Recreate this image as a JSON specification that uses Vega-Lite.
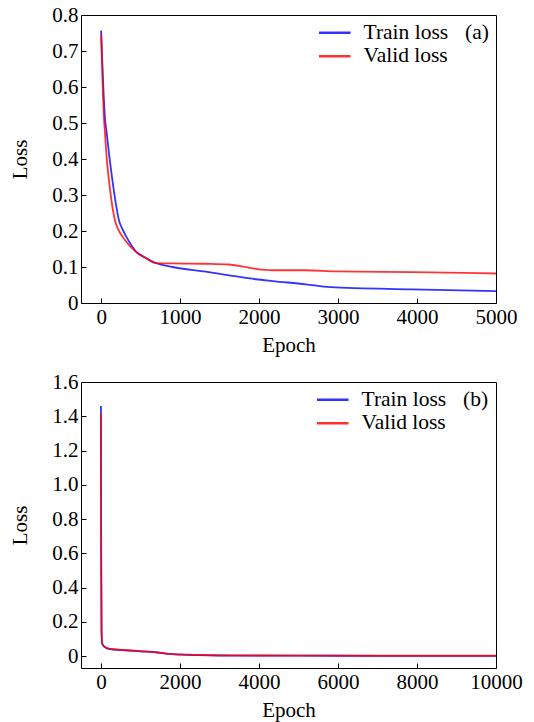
{
  "$schema": "https://vega.github.io/schema/vega-lite/v6.json",
  "padding": {"left": 9, "top": 3, "right": 5, "bottom": 5},
  "background": "white",
  "bounds": "flush",
  "spacing": 79,
  "config": {
    "font": "Liberation Serif",
    "view": {"stroke": "black", "strokeWidth": 1},
    "axis": {
      "labelFont": "Liberation Serif", "labelFontSize": 21, "labelColor": "black",
      "titleFont": "Liberation Serif", "titleFontSize": 21, "titleColor": "black", "titleFontWeight": "normal",
      "domain": false, "grid": false, "ticks": true, "tickSize": -5, "tickColor": "black", "tickWidth": 1,
      "labelPadding": 8, "labelFlush": false, "labelOverlap": false
    },
    "legend": {
      "orient": "top-right", "offset": 7, "padding": 0,
      "titleOrient": "right", "titleAnchor": "start", "titleBaseline": "top",
      "titleFont": "Liberation Serif", "titleFontSize": 21.5, "titleFontWeight": "normal", "titleColor": "black", "titlePadding": 17,
      "labelFont": "Liberation Serif", "labelFontSize": 21.5, "labelColor": "black", "labelOffset": 18,
      "symbolType": "M-3.16,0H3.16", "symbolSize": 100, "symbolStrokeWidth": 2.5, "rowPadding": 0.5
    }
  },
  "datasets": {
    "a": [
      {"epoch": 0, "loss": 0.757, "series": "Train loss"},
      {"epoch": 51, "loss": 0.506, "series": "Train loss"},
      {"epoch": 67, "loss": 0.478, "series": "Train loss"},
      {"epoch": 101, "loss": 0.413, "series": "Train loss"},
      {"epoch": 156, "loss": 0.32, "series": "Train loss"},
      {"epoch": 228, "loss": 0.228, "series": "Train loss"},
      {"epoch": 270, "loss": 0.205, "series": "Train loss"},
      {"epoch": 350, "loss": 0.172, "series": "Train loss"},
      {"epoch": 443, "loss": 0.142, "series": "Train loss"},
      {"epoch": 550, "loss": 0.127, "series": "Train loss"},
      {"epoch": 692, "loss": 0.111, "series": "Train loss"},
      {"epoch": 903, "loss": 0.1, "series": "Train loss"},
      {"epoch": 1325, "loss": 0.087, "series": "Train loss"},
      {"epoch": 1620, "loss": 0.077, "series": "Train loss"},
      {"epoch": 1958, "loss": 0.066, "series": "Train loss"},
      {"epoch": 2169, "loss": 0.061, "series": "Train loss"},
      {"epoch": 2591, "loss": 0.052, "series": "Train loss"},
      {"epoch": 2900, "loss": 0.044, "series": "Train loss"},
      {"epoch": 3941, "loss": 0.038, "series": "Train loss"},
      {"epoch": 5000, "loss": 0.033, "series": "Train loss"},
      {"epoch": 0, "loss": 0.746, "series": "Valid loss"},
      {"epoch": 38, "loss": 0.506, "series": "Valid loss"},
      {"epoch": 47, "loss": 0.478, "series": "Valid loss"},
      {"epoch": 67, "loss": 0.413, "series": "Valid loss"},
      {"epoch": 110, "loss": 0.32, "series": "Valid loss"},
      {"epoch": 177, "loss": 0.228, "series": "Valid loss"},
      {"epoch": 215, "loss": 0.205, "series": "Valid loss"},
      {"epoch": 300, "loss": 0.175, "series": "Valid loss"},
      {"epoch": 443, "loss": 0.142, "series": "Valid loss"},
      {"epoch": 550, "loss": 0.127, "series": "Valid loss"},
      {"epoch": 692, "loss": 0.111, "series": "Valid loss"},
      {"epoch": 903, "loss": 0.11, "series": "Valid loss"},
      {"epoch": 1325, "loss": 0.109, "series": "Valid loss"},
      {"epoch": 1620, "loss": 0.107, "series": "Valid loss"},
      {"epoch": 1800, "loss": 0.101, "series": "Valid loss"},
      {"epoch": 1958, "loss": 0.095, "series": "Valid loss"},
      {"epoch": 2169, "loss": 0.091, "series": "Valid loss"},
      {"epoch": 2591, "loss": 0.091, "series": "Valid loss"},
      {"epoch": 2971, "loss": 0.088, "series": "Valid loss"},
      {"epoch": 3941, "loss": 0.086, "series": "Valid loss"},
      {"epoch": 5000, "loss": 0.082, "series": "Valid loss"}
    ],
    "b": [
      {"epoch": 0, "loss": 1.46, "series": "Train loss"},
      {"epoch": 5, "loss": 0.6, "series": "Train loss"},
      {"epoch": 15, "loss": 0.15, "series": "Train loss"},
      {"epoch": 30, "loss": 0.075, "series": "Train loss"},
      {"epoch": 60, "loss": 0.06, "series": "Train loss"},
      {"epoch": 150, "loss": 0.045, "series": "Train loss"},
      {"epoch": 300, "loss": 0.038, "series": "Train loss"},
      {"epoch": 600, "loss": 0.033, "series": "Train loss"},
      {"epoch": 1000, "loss": 0.027, "series": "Train loss"},
      {"epoch": 1400, "loss": 0.021, "series": "Train loss"},
      {"epoch": 1700, "loss": 0.012, "series": "Train loss"},
      {"epoch": 2000, "loss": 0.008, "series": "Train loss"},
      {"epoch": 2500, "loss": 0.005, "series": "Train loss"},
      {"epoch": 3000, "loss": 0.003, "series": "Train loss"},
      {"epoch": 4000, "loss": 0.002, "series": "Train loss"},
      {"epoch": 6000, "loss": 0.0015, "series": "Train loss"},
      {"epoch": 8000, "loss": 0.001, "series": "Train loss"},
      {"epoch": 10000, "loss": 0.001, "series": "Train loss"},
      {"epoch": 0, "loss": 1.415, "series": "Valid loss"},
      {"epoch": 5, "loss": 0.6, "series": "Valid loss"},
      {"epoch": 15, "loss": 0.15, "series": "Valid loss"},
      {"epoch": 30, "loss": 0.075, "series": "Valid loss"},
      {"epoch": 60, "loss": 0.062, "series": "Valid loss"},
      {"epoch": 150, "loss": 0.047, "series": "Valid loss"},
      {"epoch": 300, "loss": 0.04, "series": "Valid loss"},
      {"epoch": 600, "loss": 0.035, "series": "Valid loss"},
      {"epoch": 1000, "loss": 0.029, "series": "Valid loss"},
      {"epoch": 1400, "loss": 0.022, "series": "Valid loss"},
      {"epoch": 1700, "loss": 0.013, "series": "Valid loss"},
      {"epoch": 2000, "loss": 0.009, "series": "Valid loss"},
      {"epoch": 2500, "loss": 0.006, "series": "Valid loss"},
      {"epoch": 3000, "loss": 0.004, "series": "Valid loss"},
      {"epoch": 4000, "loss": 0.003, "series": "Valid loss"},
      {"epoch": 6000, "loss": 0.002, "series": "Valid loss"},
      {"epoch": 8000, "loss": 0.0015, "series": "Valid loss"},
      {"epoch": 10000, "loss": 0.0015, "series": "Valid loss"}
    ]
  },
  "vconcat": [
    {
      "width": 415, "height": 288,
      "data": {"name": "a"},
      "mark": {"type": "line", "strokeWidth": 1.8, "opacity": 0.8, "interpolate": "monotone", "clip": true},
      "encoding": {
        "x": {"field": "epoch", "type": "quantitative", "scale": {"domain": [-255, 5000], "nice": false, "zero": false},
              "axis": {"title": "Epoch", "values": [0, 1000, 2000, 3000, 4000, 5000], "format": "d", "titlePadding": 7}},
        "y": {"field": "loss", "type": "quantitative", "scale": {"domain": [0, 0.8], "nice": false},
              "axis": {"title": "Loss", "values": [0, 0.1, 0.2, 0.3, 0.4, 0.5, 0.6, 0.7, 0.8], "labelExpr": "datum.value == 0 ? '0' : format(datum.value, '.1f')", "titlePadding": 21}},
        "color": {"field": "series", "type": "nominal",
                  "scale": {"domain": ["Train loss", "Valid loss"], "range": ["#0000ff", "#ff0000"]},
                  "legend": {"title": "(a)"}}
      }
    },
    {
      "width": 415, "height": 286,
      "data": {"name": "b"},
      "mark": {"type": "line", "strokeWidth": 1.8, "opacity": 0.8, "interpolate": "monotone", "clip": true},
      "encoding": {
        "x": {"field": "epoch", "type": "quantitative", "scale": {"domain": [-505, 10000], "nice": false, "zero": false},
              "axis": {"title": "Epoch", "values": [0, 2000, 4000, 6000, 8000, 10000], "format": "d", "titlePadding": 7}},
        "y": {"field": "loss", "type": "quantitative", "scale": {"domain": [-0.07, 1.6], "nice": false, "zero": false},
              "axis": {"title": "Loss", "values": [0, 0.2, 0.4, 0.6, 0.8, 1.0, 1.2, 1.4, 1.6], "labelExpr": "datum.value == 0 ? '0' : format(datum.value, '.1f')", "titlePadding": 21}},
        "color": {"field": "series", "type": "nominal",
                  "scale": {"domain": ["Train loss", "Valid loss"], "range": ["#0000ff", "#ff0000"]},
                  "legend": {"title": "(b)"}}
      }
    }
  ],
  "resolve": {"scale": {"color": "independent"}, "legend": {"color": "independent"}}
}
